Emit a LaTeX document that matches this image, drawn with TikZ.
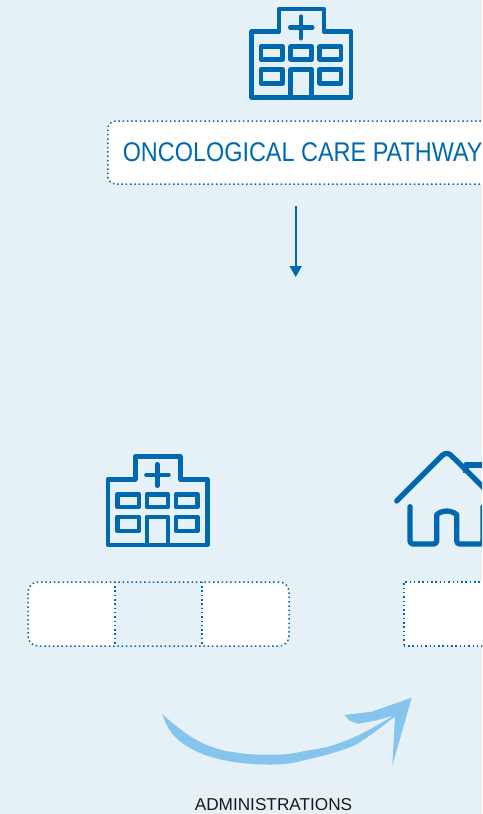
\documentclass[tikz,border=0pt]{standalone}
\usepackage{xcolor}
\usepackage{fontspec}
\setmainfont{Liberation Sans}
\newfontfamily\pathwayfont[FakeStretch=0.868]{Liberation Sans}
\usepackage{tikz}
\usetikzlibrary{arrows.meta,positioning}

\definecolor{pagebg}{HTML}{E5F0F7}
\definecolor{careblue}{HTML}{0067B1}
\definecolor{brushblue}{HTML}{85C4EC}

\tikzset{
  hospital/.pic={
    \draw[iconline] (-49.6,44.2) -- (-49.6,-21.5) -- (-22.3,-21.5) -- (-22.3,-44.2) -- (22.7,-44.2) -- (22.7,-21.5) -- (49.7,-21.5) -- (49.7,44.2) -- cycle;
    \draw[iconline, line cap=round] (-11,-25.9) -- (11,-25.9) (-0.3,-36.5) -- (-0.3,-15);
    \draw[iconline] (-40.3,-6.5) rectangle (-18.6,6.1);
    \draw[iconline] (-10.6,-6.5) rectangle (10.4,6.1);
    \draw[iconline] (18.4,-6.5) rectangle (39.7,6.1);
    \draw[iconline] (-40.3,16.1) rectangle (-18.6,30.1);
    \draw[iconline] (18.4,16.1) rectangle (39.7,30.1);
    \draw[iconline] (-10.6,44.2) -- (-10.6,16.1) -- (10.4,16.1) -- (10.4,44.2);
  }
}

\begin{document}
\begin{tikzpicture}[
  x=1pt, y=-1pt,
  iconline/.style={draw=careblue, line width=4.6pt, line join=round},
  homeline/.style={draw=careblue, line width=5.3pt, line join=round, line cap=round},
  dotline/.style={draw=careblue, line width=1.5pt, dash pattern=on 1.5pt off 2.8pt},
  dotbox/.style={dotline, fill=white, inner sep=0pt},
  cell/.style={inner sep=0pt, minimum height=64pt},
  flow/.style={-{Triangle[length=11pt,width=12pt]}, careblue, line width=1.7pt},
  brush/.style={fill=brushblue, draw=none},
]

\fill[pagebg, use as bounding box] (0,0) rectangle (482,814);
\clip (0,0) rectangle (482,814);

\pic at (301.3,53.2) {hospital};
\pic at (157.5,500.7) {hospital};

\node[dotbox, rounded corners=8pt, anchor=west, inner xsep=15pt, minimum height=63pt, text=careblue, font=\pathwayfont\fontsize{27}{27}\selectfont] (pathway) at (107,152.5) {ONCOLOGICAL CARE PATHWAY};

\coordinate (flowstart) at (295.7,205.5);
\coordinate (flowend) at (295.7,277);
\draw[flow] (flowstart) -- (flowend);

\node[cell, fill=white, rounded corners=10pt, minimum width=261pt] (traybase) at (158.5,614) {};
\node[cell, fill=pagebg, minimum width=87pt] (hospitalmid) at (traybase) {};
\node[cell, dotline, rounded corners=10pt, minimum width=261pt] (tray) at (traybase) {};
\draw[dotline] (hospitalmid.north west) -- (hospitalmid.south west);
\draw[dotline] (hospitalmid.north east) -- (hospitalmid.south east);
\node[dotbox, cell, anchor=west, minimum width=120pt] (homebox) at (403,614) {};

\draw[homeline, rounded corners=6pt] (396.7,501) -- (446.7,451) -- (490,494);
\draw[homeline, rounded corners=3pt] (410,506.7) -- (410,544) -- (436.7,544) -- (436.7,518) arc[start angle=180, end angle=360, x radius=10, y radius=7] -- (456.7,544) -- (483,544) -- (483,506.7);
\draw[homeline, line cap=butt] (466,473) -- (466,465) -- (490,465);

\fill[brush] plot[smooth] coordinates {(162.3,714.3) (175,725) (188.3,735) (205,744.3) (225,750.7) (251.7,754.3) (285,754.3) (305,751) (328.3,746.7) (351.7,738.3) (371.7,728.3) (393.3,715.7)}
  -- (376,720.5) -- (358.3,723.7) -- (350,721) -- (344.3,715) -- (371.7,711.7) -- (411.7,697.7) -- (392.3,765.7) -- (395,716.7)
  -- plot[smooth] coordinates {(394.3,717) (375,731.7) (355,745) (331.7,753.3) (305,760) (285,764) (258.3,764.3) (231.7,761.7) (205,755) (185,745) (173.3,735) (166.7,725) (162.3,714.3)} -- cycle;

\node[font=\fontsize{17.2}{17.2}\selectfont, text=black!90] (administrations) at (273.5,804.5) {ADMINISTRATIONS};

\end{tikzpicture}
\end{document}
